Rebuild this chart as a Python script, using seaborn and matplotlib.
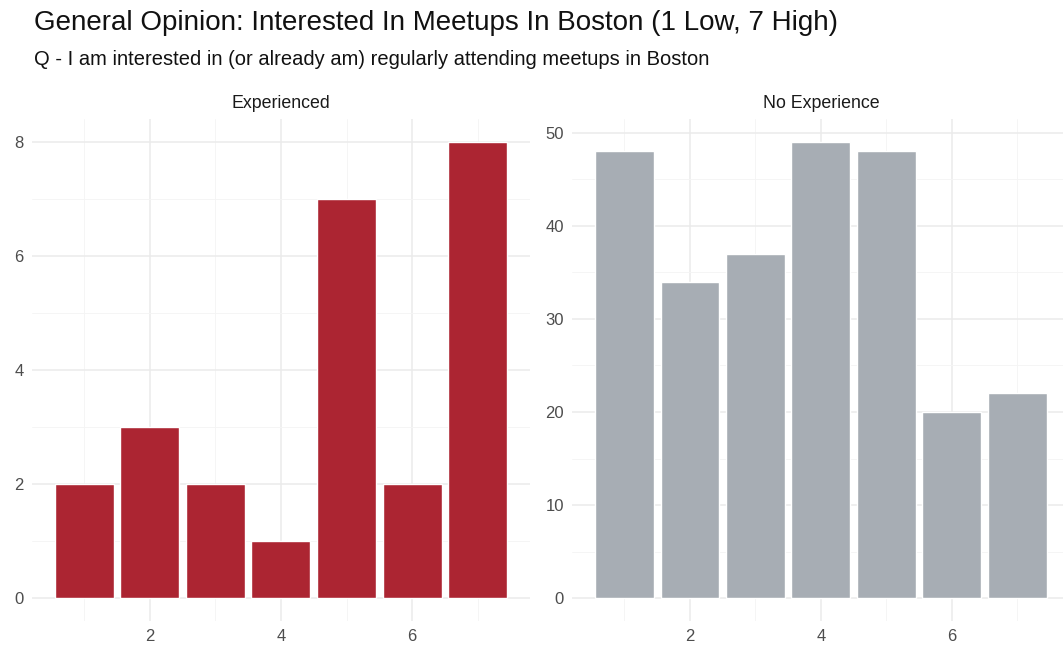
import matplotlib
matplotlib.use('Agg')
import matplotlib.pyplot as plt
import seaborn as sns
import pandas as pd
from matplotlib.ticker import MultipleLocator

# Data
scores = [1, 2, 3, 4, 5, 6, 7]
experienced_counts = [2, 3, 2, 1, 7, 2, 8]
no_experience_counts = [48, 34, 37, 49, 48, 20, 22]
panel_titles = ['Experienced', 'No Experience']
panel_colors = ['#AC2532', '#A7ADB4']

sns.set_theme(style='white')
plt.rcParams['font.family'] = ['Liberation Sans', 'DejaVu Sans']

fig = plt.figure(figsize=(10.63, 6.49), dpi=100)

# (counts, axes rect, major step, minor step)
panels = [
    (experienced_counts, [0.030, 0.0431, 0.4685, 0.7735], 2, 1),
    (no_experience_counts, [0.5385, 0.0431, 0.4676, 0.7735], 10, 5),
]

for i, (counts, rect, major, minor) in enumerate(panels):
    ax = fig.add_axes(rect)
    df = pd.DataFrame({'score': scores, 'count': counts})
    sns.barplot(data=df, x='score', y='count', native_scale=True, width=0.9,
                color=panel_colors[i], saturation=1, ax=ax, zorder=3)
    top = max(counts)
    ax.set_xlim(0.205, 7.795)
    ax.set_ylim(-0.05 * top, 1.05 * top)
    ax.xaxis.set_major_locator(MultipleLocator(2))
    ax.xaxis.set_minor_locator(MultipleLocator(1))
    ax.yaxis.set_major_locator(MultipleLocator(major))
    ax.yaxis.set_minor_locator(MultipleLocator(minor))
    ax.grid(True, which='major', color='#EBEBEB', linewidth=1.1, zorder=0)
    ax.grid(True, which='minor', color='#F4F4F4', linewidth=0.6, zorder=0)
    ax.set_axisbelow(True)
    for s in ax.spines.values():
        s.set_visible(False)
    ax.tick_params(which='both', length=0, labelsize=12, colors='#4D4D4D', pad=6)
    ax.set_xlabel('')
    ax.set_ylabel('')
    ax.set_title(panel_titles[i], fontsize=12.8, color='#1A1A1A', pad=8)

fig.text(0.032, 1 - 30 / 649, 'General Opinion: Interested In Meetups In Boston (1 Low, 7 High)',
         fontsize=20, color='#111111', va='baseline')
fig.text(0.032, 1 - 65 / 649, 'Q - I am interested in (or already am) regularly attending meetups in Boston',
         fontsize=14.5, color='#111111', va='baseline')

fig.savefig('out.png', dpi=100, facecolor='white')
